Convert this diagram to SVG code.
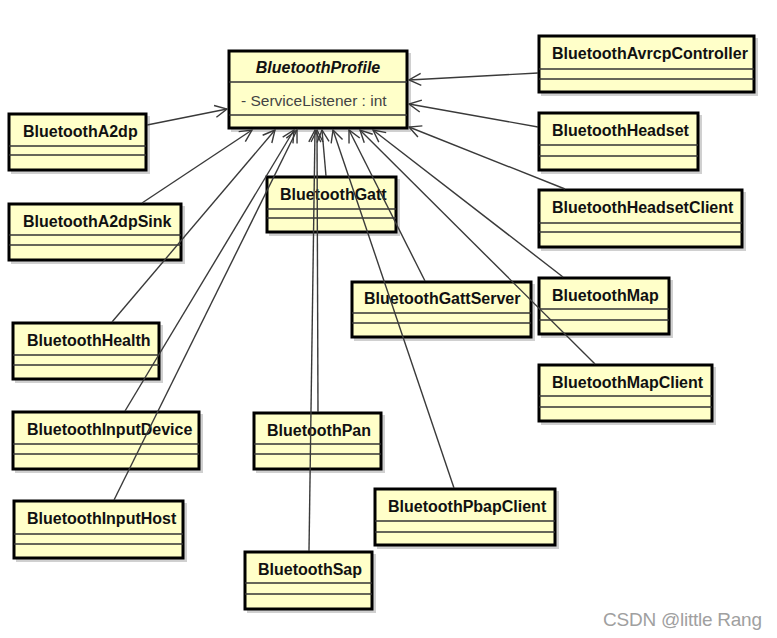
<svg xmlns="http://www.w3.org/2000/svg" width="777" height="638" viewBox="0 0 777 638">
<style>
.box{fill:#ffffc9;stroke:#000;stroke-width:3}
.sh{fill:#d0d0d0}
.sep{stroke:#333;stroke-width:1.4}
.t{font-family:"Liberation Sans",Arial,sans-serif;font-size:16px;font-weight:bold;fill:#111}
.ti{font-family:"Liberation Sans",Arial,sans-serif;font-size:16px;font-weight:bold;font-style:italic;fill:#111}
.a{font-family:"Liberation Sans",Arial,sans-serif;font-size:15.5px;fill:#444}
.c line{stroke:#3a3a3a;stroke-width:1.4;marker-end:url(#arr)}
.wm{font-family:"Liberation Sans",Arial,sans-serif;font-size:19px;fill:#a0a0a0}
</style>
<defs>
<marker id="arr" markerUnits="userSpaceOnUse" markerWidth="16" markerHeight="16" refX="13" refY="7" orient="auto" viewBox="0 0 16 14">
<path d="M1,1 L13,7 L1,13" fill="none" stroke="#3a3a3a" stroke-width="1.4"/>
</marker>
</defs>
<rect width="777" height="638" fill="#fff"/>

<g id="BluetoothProfile">
<rect class="sh" x="231" y="53" width="180" height="79"/>
<rect class="box" x="229" y="51" width="178" height="77"/>
<line class="sep" x1="229" y1="82" x2="407" y2="82"/>
<line class="sep" x1="229" y1="115" x2="407" y2="115"/>
<text class="ti" x="318" y="73" text-anchor="middle">BluetoothProfile</text>
<text class="a" x="241" y="106">- ServiceListener : int</text>
</g>

<g id="BluetoothAvrcpController">
<rect class="sh" x="541" y="38" width="217" height="58"/>
<rect class="box" x="539" y="36" width="215" height="56"/>
<line class="sep" x1="539" y1="69" x2="754" y2="69"/>
<line class="sep" x1="539" y1="79" x2="754" y2="79"/>
<text class="t" x="552" y="59">BluetoothAvrcpController</text>
</g>

<g id="BluetoothHeadset">
<rect class="sh" x="541" y="115" width="161" height="59"/>
<rect class="box" x="539" y="113" width="159" height="57"/>
<line class="sep" x1="539" y1="145" x2="698" y2="145"/>
<line class="sep" x1="539" y1="156" x2="698" y2="156"/>
<text class="t" x="552" y="136">BluetoothHeadset</text>
</g>

<g id="BluetoothHeadsetClient">
<rect class="sh" x="541" y="192" width="205" height="59"/>
<rect class="box" x="539" y="190" width="203" height="57"/>
<line class="sep" x1="539" y1="223" x2="742" y2="223"/>
<line class="sep" x1="539" y1="232" x2="742" y2="232"/>
<text class="t" x="552" y="213">BluetoothHeadsetClient</text>
</g>

<g id="BluetoothA2dp">
<rect class="sh" x="11" y="116" width="139" height="58"/>
<rect class="box" x="9" y="114" width="137" height="56"/>
<line class="sep" x1="9" y1="146" x2="146" y2="146"/>
<line class="sep" x1="9" y1="155" x2="146" y2="155"/>
<text class="t" x="23" y="137">BluetoothA2dp</text>
</g>

<g id="BluetoothA2dpSink">
<rect class="sh" x="11" y="206" width="174" height="58"/>
<rect class="box" x="9" y="204" width="172" height="56"/>
<line class="sep" x1="9" y1="235" x2="181" y2="235"/>
<line class="sep" x1="9" y1="245" x2="181" y2="245"/>
<text class="t" x="23" y="227">BluetoothA2dpSink</text>
</g>

<g id="BluetoothGatt">
<rect class="sh" x="269" y="179" width="131" height="57"/>
<rect class="box" x="267" y="177" width="129" height="55"/>
<line class="sep" x1="267" y1="209" x2="396" y2="209"/>
<line class="sep" x1="267" y1="218" x2="396" y2="218"/>
<text class="t" x="280" y="200">BluetoothGatt</text>
</g>

<g id="BluetoothGattServer">
<rect class="sh" x="354" y="284" width="181" height="57"/>
<rect class="box" x="352" y="282" width="179" height="55"/>
<line class="sep" x1="352" y1="313" x2="531" y2="313"/>
<line class="sep" x1="352" y1="323" x2="531" y2="323"/>
<text class="t" x="364" y="304">BluetoothGattServer</text>
</g>

<g id="BluetoothMap">
<rect class="sh" x="541" y="280" width="132" height="58"/>
<rect class="box" x="539" y="278" width="130" height="56"/>
<line class="sep" x1="539" y1="309" x2="669" y2="309"/>
<line class="sep" x1="539" y1="320" x2="669" y2="320"/>
<text class="t" x="552" y="301">BluetoothMap</text>
</g>

<g id="BluetoothMapClient">
<rect class="sh" x="541" y="367" width="175" height="58"/>
<rect class="box" x="539" y="365" width="173" height="56"/>
<line class="sep" x1="539" y1="396" x2="712" y2="396"/>
<line class="sep" x1="539" y1="407" x2="712" y2="407"/>
<text class="t" x="552" y="388">BluetoothMapClient</text>
</g>

<g id="BluetoothHealth">
<rect class="sh" x="15" y="325" width="148" height="58"/>
<rect class="box" x="13" y="323" width="146" height="56"/>
<line class="sep" x1="13" y1="355" x2="159" y2="355"/>
<line class="sep" x1="13" y1="365" x2="159" y2="365"/>
<text class="t" x="27" y="346">BluetoothHealth</text>
</g>

<g id="BluetoothInputDevice">
<rect class="sh" x="15" y="414" width="188" height="59"/>
<rect class="box" x="13" y="412" width="186" height="57"/>
<line class="sep" x1="13" y1="444" x2="199" y2="444"/>
<line class="sep" x1="13" y1="454" x2="199" y2="454"/>
<text class="t" x="27" y="435">BluetoothInputDevice</text>
</g>

<g id="BluetoothInputHost">
<rect class="sh" x="16" y="503" width="171" height="59"/>
<rect class="box" x="14" y="501" width="169" height="57"/>
<line class="sep" x1="14" y1="534" x2="183" y2="534"/>
<line class="sep" x1="14" y1="544" x2="183" y2="544"/>
<text class="t" x="27" y="524">BluetoothInputHost</text>
</g>

<g id="BluetoothPan">
<rect class="sh" x="256" y="415" width="129" height="58"/>
<rect class="box" x="254" y="413" width="127" height="56"/>
<line class="sep" x1="254" y1="444" x2="381" y2="444"/>
<line class="sep" x1="254" y1="454" x2="381" y2="454"/>
<text class="t" x="267" y="436">BluetoothPan</text>
</g>

<g id="BluetoothPbapClient">
<rect class="sh" x="377" y="491" width="182" height="58"/>
<rect class="box" x="375" y="489" width="180" height="56"/>
<line class="sep" x1="375" y1="521" x2="555" y2="521"/>
<line class="sep" x1="375" y1="532" x2="555" y2="532"/>
<text class="t" x="388" y="512">BluetoothPbapClient</text>
</g>

<g id="BluetoothSap">
<rect class="sh" x="247" y="554" width="129" height="59"/>
<rect class="box" x="245" y="552" width="127" height="57"/>
<line class="sep" x1="245" y1="583" x2="372" y2="583"/>
<line class="sep" x1="245" y1="594" x2="372" y2="594"/>
<text class="t" x="258" y="575">BluetoothSap</text>
</g>

<g id="connectors" class="c">
<line x1="147" y1="125" x2="227" y2="109"/>
<line x1="538" y1="73" x2="409" y2="80"/>
<line x1="538" y1="127" x2="409" y2="104"/>
<line x1="565" y1="189" x2="409" y2="127"/>
<line x1="142" y1="203" x2="252" y2="130"/>
<line x1="112" y1="322" x2="275" y2="130"/>
<line x1="125" y1="411" x2="294" y2="130"/>
<line x1="114" y1="500" x2="297" y2="130"/>
<line x1="326" y1="176" x2="322" y2="130"/>
<line x1="318" y1="412" x2="317" y2="130"/>
<line x1="309" y1="551" x2="315" y2="130"/>
<line x1="425" y1="281" x2="349" y2="130"/>
<line x1="454" y1="488" x2="333" y2="130"/>
<line x1="563" y1="277" x2="373" y2="130"/>
<line x1="595" y1="364" x2="360" y2="130"/>
</g>

<text class="wm" x="603" y="626" textLength="159">CSDN @little Rang</text>
</svg>
